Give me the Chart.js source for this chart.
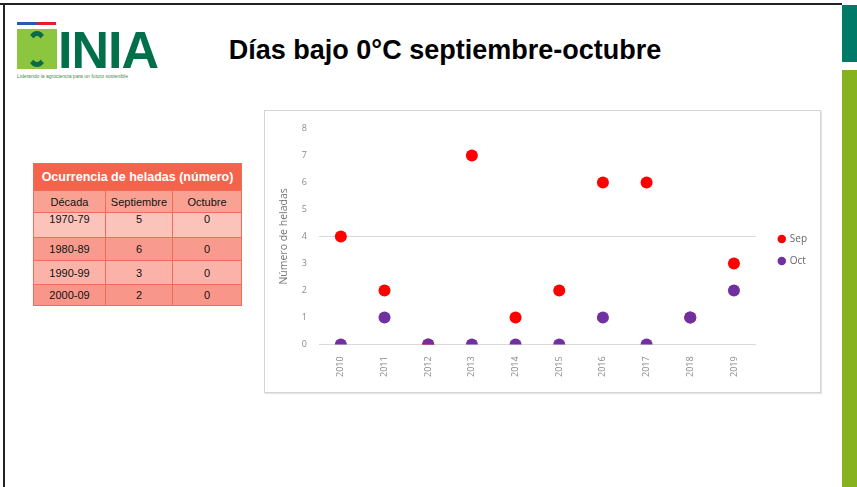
<!DOCTYPE html>
<html><head><meta charset="utf-8">
<script src="https://cdn.jsdelivr.net/npm/chart.js@4"></script>
<style>
html,body{margin:0;padding:0;background:#fff;}
body{width:857px;height:487px;position:relative;overflow:hidden;font-family:"Liberation Sans",Arial,sans-serif;}
.abs{position:absolute;}
#topline{left:0;top:3px;width:842px;height:2px;background:#222;}
#leftline{left:3px;top:3px;width:2px;height:484px;background:#222;}
#teal{left:842px;top:5px;width:15px;height:57px;background:#007a68;}
#lime{left:842px;top:70px;width:15px;height:417px;background:#87b21f;}
#title{left:150px;top:35px;width:590px;text-align:center;font-weight:bold;font-size:27px;color:#000;}
#chartbox{left:264px;top:110px;width:555px;height:281px;border:1px solid #d4d4d4;box-shadow:1px 1px 1px #e4e4e4;background:#fff;}
table{position:absolute;left:33px;top:163px;border-collapse:collapse;font-size:11px;color:#111;table-layout:fixed;width:208px;}
td,th{border:1px solid #f26a58;text-align:center;padding:0;}
th{background:#f4644c;color:#fff;font-weight:bold;font-size:12.5px;height:26px;}
</style></head><body>
<div id="topline" class="abs"></div>
<div id="leftline" class="abs"></div>
<div id="teal" class="abs"></div>
<div id="lime" class="abs"></div>
<!-- logo -->
<div class="abs" style="left:17px;top:22px;width:20px;height:3px;background:#2a5ab0"></div>
<div class="abs" style="left:37px;top:22px;width:19px;height:3px;background:#e0202a"></div>
<div class="abs" style="left:17px;top:29px;width:40px;height:40px;background:#8cc63f"></div>
<div class="abs" style="left:26px;top:31px;width:22px;height:36px;border:5px solid #0b6b47;border-radius:50%;border-left-color:transparent;border-right-color:transparent;box-sizing:border-box"></div>
<div class="abs" style="left:58px;top:20px;font-weight:bold;font-size:52px;color:#00704a;letter-spacing:-1px;font-family:'Liberation Sans',Arial,sans-serif">INIA</div>
<div class="abs" style="left:17px;top:73px;font-size:5px;color:#4a8a4a;white-space:nowrap">Liderando la agrociencia para un futuro sostenible</div>

<div id="title" class="abs">Días bajo 0°C septiembre-octubre</div>

<table id="tbl"></table>

<div id="chartbox" class="abs"><canvas id="c" width="555" height="281"></canvas></div>

<script>
// table data
const tableTitle = "Ocurrencia de heladas (número)";
const tableHeader = ["Década", "Septiembre", "Octubre"];
const decades = ["1970-79", "1980-89", "1990-99", "2000-09"];
const decadeSep = [5, 6, 3, 2];
const decadeOct = [0, 0, 0, 0];

// chart data
const years = ["2010","2011","2012","2013","2014","2015","2016","2017","2018","2019"];
const sepValues = [4, 2, 0, 7, 1, 2, 6, 6, 1, 3];
const octValues = [0, 1, 0, 0, 0, 0, 1, 0, 1, 2];
const yTicks = [0, 1, 2, 3, 4, 5, 6, 7, 8];

// build table
(function(){
  const t = document.getElementById('tbl');
  const widths = [72, 67, 69];
  let h = '<colgroup>' + widths.map(w=>'<col style="width:'+w+'px">').join('') + '</colgroup>';
  h += '<tr><th colspan="3">' + tableTitle + '</th></tr>';
  h += '<tr style="background:#f9a294;height:22px">' + tableHeader.map(x=>'<td>'+x+'</td>').join('') + '</tr>';
  const rowBg = ['#fcc3bb','#f89b8e','#fbb3a9','#f8968a'];
  const rowH = [25, 23, 24, 21];
  decades.forEach((d,i)=>{
    h += '<tr style="background:'+rowBg[i]+';height:'+rowH[i]+'px;vertical-align:'+(i===0?'top':'middle')+'"><td>'+d+'</td><td>'+decadeSep[i]+'</td><td>'+decadeOct[i]+'</td></tr>';
  });
  t.innerHTML = h;
})();

const fam = "'Open Sans','Liberation Sans',sans-serif";
const tickFont = {family: fam, size: 9};
new Chart(document.getElementById('c'), {
  type: 'line',
  data: {
    labels: years,
    datasets: [
      {label: 'Sep', data: sepValues, showLine: false, pointRadius: 6, pointHoverRadius: 6,
       backgroundColor: '#ff0000', borderColor: '#ff0000', pointBorderWidth: 0, order: 2},
      {label: 'Oct', data: octValues, showLine: false, pointRadius: 6, pointHoverRadius: 6,
       backgroundColor: '#7030a0', borderColor: '#7030a0', pointBorderWidth: 0, order: 1}
    ]
  },
  options: {
    responsive: false,
    animation: false,
    layout: {padding: {left: 11, right: 3, top: 8, bottom: 11}},
    plugins: {
      tooltip: {enabled: false},
      legend: {
        position: 'right',
        labels: {
          usePointStyle: true, pointStyle: 'circle', boxWidth: 6, boxHeight: 6, padding: 12,
          color: '#666', font: {family: fam, size: 10},
          sort: (a, b) => a.datasetIndex - b.datasetIndex
        }
      }
    },
    scales: {
      x: {
        offset: true,
        grid: {display: false},
        border: {display: false},
        ticks: {color: '#8a8a8a', font: tickFont, minRotation: 90, maxRotation: 90, padding: 4}
      },
      y: {
        min: 0, max: 8,
        afterBuildTicks: (s) => { s.ticks = yTicks.map(v => ({value: v})); },
        afterFit: (s) => { s.width = 43; },
        grid: {color: (ctx) => (ctx.tick && (ctx.tick.value === 0 || ctx.tick.value === 4)) ? '#d9d9d9' : 'rgba(0,0,0,0)', drawTicks: false},
        border: {display: false},
        ticks: {color: '#8a8a8a', font: tickFont, padding: 12},
        title: {display: true, text: 'Número de heladas', color: '#777', font: {family: fam, size: 10.5}, padding: 2}
      },
      spacer: {
        position: 'right', min: 0, max: 1,
        afterFit: (s) => { s.width = 11; },
        grid: {display: false}, border: {display: false}, ticks: {display: false}
      }
    }
  }
});
</script>
</body></html>
